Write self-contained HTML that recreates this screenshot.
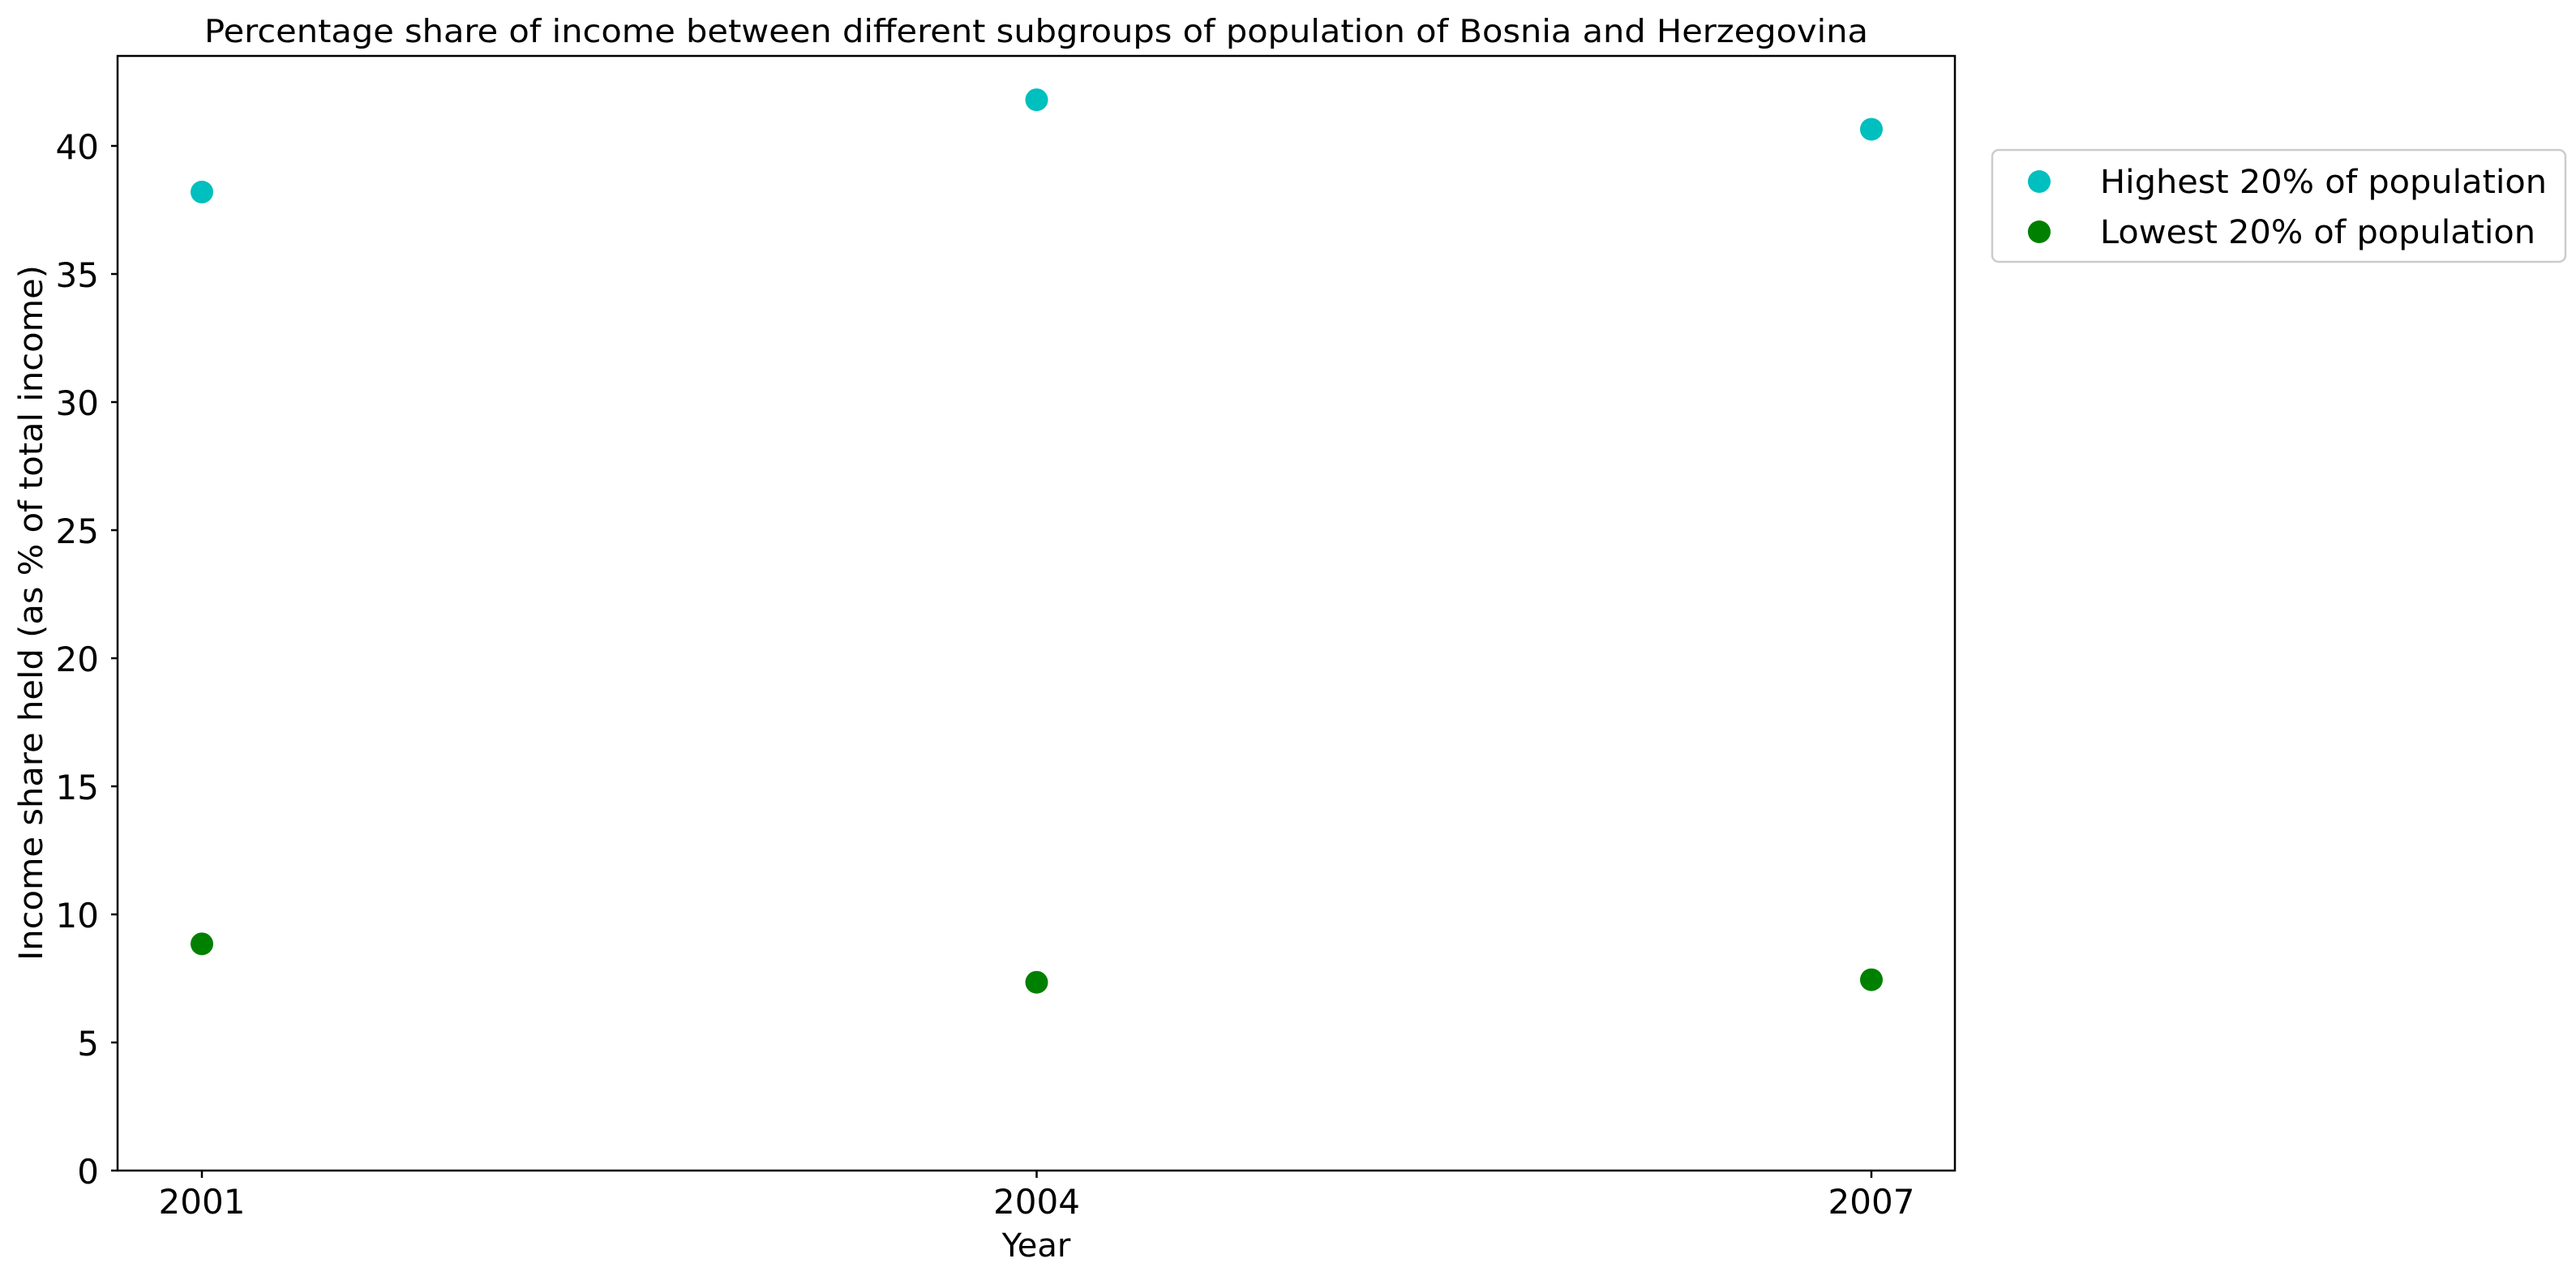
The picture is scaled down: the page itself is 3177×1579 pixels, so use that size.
<!DOCTYPE html>
<html><head><meta charset="utf-8"><style>
body{margin:0;background:#fff}
svg{display:block;font-family:"DejaVu Sans","Liberation Sans",sans-serif}
</style></head><body>
<svg id="chart" width="3177" height="1579" viewBox="0 0 3177 1579">
<rect width="3177" height="1579" fill="#fff"/>
<text x="1278" y="52" font-size="39" text-anchor="middle" textLength="2052" lengthAdjust="spacingAndGlyphs">Percentage share of income between different subgroups of population of Bosnia and Herzegovina</text>
<g id="axes"></g>
<g id="marks"></g>
<rect x="145" y="69" width="2266" height="1375" fill="none" stroke="#000" stroke-width="2.5"/>
<text x="1278" y="1550" font-size="40" text-anchor="middle">Year</text>
<text transform="translate(52,756) rotate(-90)" font-size="40" text-anchor="middle" textLength="858" lengthAdjust="spacingAndGlyphs">Income share held (as % of total income)</text>
<g>
<rect x="2457" y="185" width="707" height="138" rx="8" fill="#fff" stroke="#ccc" stroke-width="2.5"/>
<circle cx="2515" cy="224" r="14" fill="#00bfbf"/>
<text x="2590" y="238" font-size="40" textLength="551" lengthAdjust="spacingAndGlyphs">Highest 20% of population</text>
<circle cx="2515" cy="286" r="14" fill="#008000"/>
<text x="2590" y="300" font-size="40" textLength="537" lengthAdjust="spacingAndGlyphs">Lowest 20% of population</text>
</g>
</svg>
<script>
const years = [2001, 2004, 2007];
const highest = [38.2, 41.8, 40.65];
const lowest = [8.85, 7.35, 7.45];
const yTicks = [0, 5, 10, 15, 20, 25, 30, 35, 40];
const NS = "http://www.w3.org/2000/svg";
const x = v => 249 + (v - 2001) * (2308 - 249) / 6;
const y = v => 1444 - v * 31.6;
const axes = document.getElementById('axes');
const marks = document.getElementById('marks');
function mk(tag, attrs, parent, txt) {
  const e = document.createElementNS(NS, tag);
  for (const k in attrs) e.setAttribute(k, attrs[k]);
  if (txt !== undefined) e.textContent = txt;
  parent.appendChild(e);
  return e;
}
yTicks.forEach(t => {
  const l = mk('line', {x1: 137, x2: 145, y1: y(t), y2: y(t), stroke: '#000', 'stroke-width': 2.5}, axes);
  
  
  const tx = mk('text', {x: 122, y: y(t) + 16, 'font-size': 42, 'text-anchor': 'end'}, axes, String(t));
  
  
});
years.forEach(yr => {
  const l = mk('line', {x1: x(yr), x2: x(yr), y1: 1444, y2: 1453, stroke: '#000', 'stroke-width': 2.5}, axes);
  
  
  const tx = mk('text', {x: x(yr), y: 1497, 'font-size': 42, 'text-anchor': 'middle'}, axes, String(yr));
  
  
});
years.forEach((yr, i) => {
  const c1 = mk('circle', {cx: x(yr), cy: y(highest[i]), r: 14, fill: '#00bfbf'}, marks);
  
  
  const c2 = mk('circle', {cx: x(yr), cy: y(lowest[i]), r: 14, fill: '#008000'}, marks);
  
  
});
</script>
</body></html>
